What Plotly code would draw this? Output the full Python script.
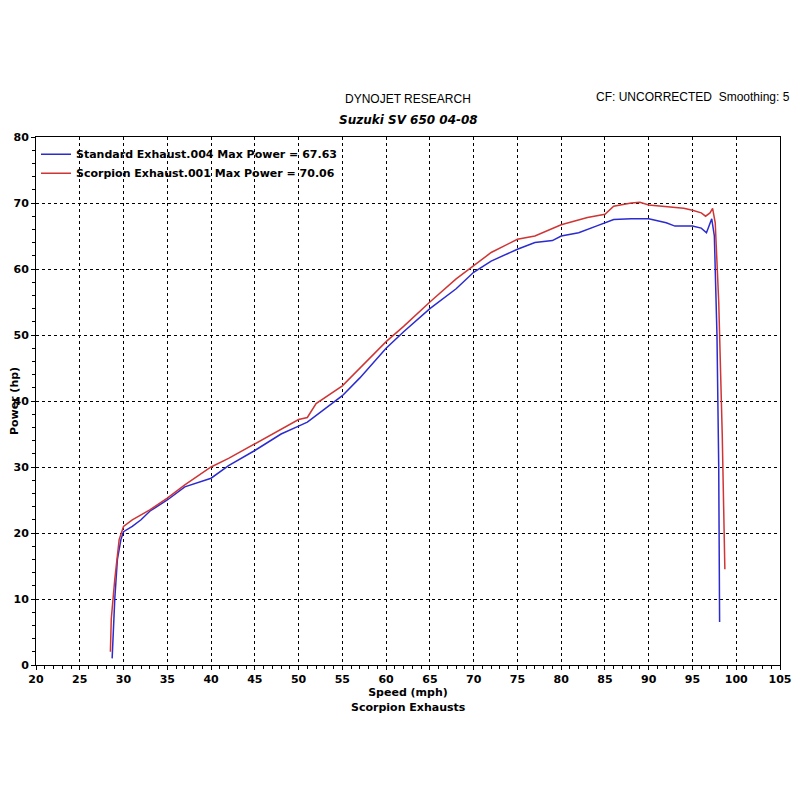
import plotly.graph_objects as go

# Standard Exhaust (blue)
std_speed = [28.7, 29.0, 29.3, 29.7, 30.0, 31, 32, 33, 35, 37, 40, 42, 45, 48, 50, 51, 53, 55, 57, 60,
             62, 65, 68, 70, 72, 75, 77, 79, 80, 82, 84, 86, 88, 90, 92, 93, 95, 96, 96.6, 97.2,
             97.5, 97.8, 98.0, 98.1]
std_power = [1, 10, 16, 19, 20.2, 21, 22, 23.3, 25, 27, 28.3, 30.2, 32.5, 35, 36.2, 36.8, 38.8, 40.8, 43.5, 48,
             50.5, 54, 57, 59.5, 61.2, 63, 64, 64.3, 65, 65.5, 66.5, 67.5, 67.6, 67.6, 67, 66.5, 66.5, 66.2, 65.5, 67.6,
             65, 50, 30, 6.5]

# Scorpion Exhaust (red)
sco_speed = [28.5, 28.6, 29.0, 29.5, 30.0, 31, 33, 35, 37, 40, 42, 45, 48, 50, 51, 52, 55, 57, 60, 62,
             65, 68, 70, 72, 75, 77, 80, 82, 83, 85, 86, 88, 89, 90, 92, 94, 95, 96, 96.5, 97,
             97.3, 97.6, 98.0, 98.4, 98.7]
sco_power = [2, 7, 13, 19, 21, 22, 23.5, 25.3, 27.3, 30, 31.3, 33.5, 35.8, 37.2, 37.5, 39.6, 42.3, 45, 49, 51.3,
             55, 58.5, 60.5, 62.5, 64.5, 65, 66.7, 67.5, 67.8, 68.3, 69.5, 70, 70.1, 69.7, 69.4, 69.2, 68.9, 68.5, 68, 68.5,
             69.2, 67, 55, 35, 14.5]

FONT = "DejaVu Sans"

fig = go.Figure()
fig.add_trace(go.Scatter(x=std_speed, y=std_power, mode="lines",
                         line=dict(color="#2b2bd0", width=1.5),
                         name="Standard Exhaust.004 Max Power = 67.63"))
fig.add_trace(go.Scatter(x=sco_speed, y=sco_power, mode="lines",
                         line=dict(color="#d03535", width=1.5),
                         name="Scorpion Exhaust.001 Max Power = 70.06"))

axis_common = dict(showline=True, linecolor="black", linewidth=1, mirror=True, automargin=False,
                   gridcolor="black", griddash="dot", gridwidth=1,
                   ticks="outside", ticklen=4, tickcolor="black", zeroline=False,
                   tickfont=dict(family=FONT, size=11, color="black", weight="bold"))
fig.update_xaxes(range=[20, 105], dtick=5, minor=dict(dtick=1, ticks="outside", ticklen=3, tickcolor="black"),
                 title=dict(text="<b>Speed (mph)</b>", font=dict(family=FONT, size=11, color="black"), standoff=1),
                 **axis_common)
fig.update_yaxes(range=[0, 80], dtick=10, minor=dict(dtick=2, ticks="outside", ticklen=3, tickcolor="black"),
                 title=dict(text="<b>Power (hp)</b>", font=dict(family=FONT, size=11, color="black"), standoff=11),
                 **axis_common)

fig.update_layout(
    width=800, height=800,
    paper_bgcolor="white", plot_bgcolor="white",
    margin=dict(l=28, r=28, t=129, b=143),
    showlegend=True,
    legend=dict(x=0.0, y=0.995, xanchor="left", yanchor="top", bgcolor="rgba(0,0,0,0)",
                font=dict(family=FONT, size=11, color="black", weight="bold"),
                tracegroupgap=0, itemwidth=30, entrywidthmode="pixels"),
    annotations=[
        dict(text="DYNOJET RESEARCH", xref="paper", yref="paper", x=0.5, y=1.0, yanchor="bottom", yshift=29,
             showarrow=False, font=dict(family="Liberation Sans", size=12, color="black")),
        dict(text="<b><i>Suzuki SV 650 04-08</i></b>", xref="paper", yref="paper", x=0.5, y=1.0,
             yanchor="bottom", yshift=8, showarrow=False, font=dict(family=FONT, size=12, color="black")),
        dict(text="CF: UNCORRECTED  Smoothing: 5", xref="paper", yref="paper", x=1.0, y=1.0,
             yanchor="bottom", yshift=31, xshift=12, xanchor="right",
             showarrow=False, font=dict(family="Liberation Sans", size=12, color="black")),
        dict(text="<b>Scorpion Exhausts</b>", xref="paper", yref="paper", x=0.5, y=0.0,
             yanchor="top", yshift=-34, showarrow=False, font=dict(family=FONT, size=11, color="black")),
    ],
)

fig.write_html("out.html")
